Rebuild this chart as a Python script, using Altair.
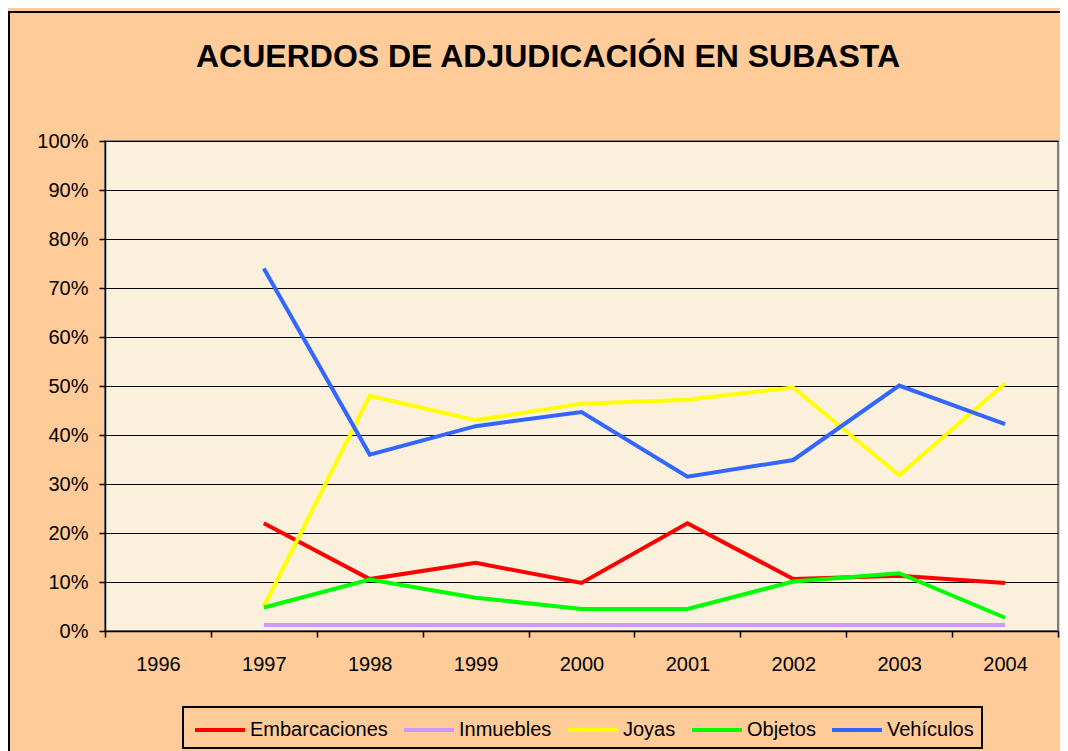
import altair as alt
import pandas as pd

years = ["1996", "1997", "1998", "1999", "2000", "2001", "2002", "2003", "2004"]
data_years = ["1997", "1998", "1999", "2000", "2001", "2002", "2003", "2004"]
series = ["Embarcaciones", "Inmuebles", "Joyas", "Objetos", "Vehículos"]
colors = ["#FF0000", "#CC99FF", "#FFFF00", "#00FF00", "#3366FF"]

embarcaciones = [22.0, 10.6, 13.9, 9.8, 22.0, 10.6, 11.3, 9.8]
inmuebles = [1.2, 1.2, 1.2, 1.2, 1.2, 1.2, 1.2, 1.2]
joyas = [5.0, 48.0, 43.0, 46.4, 47.2, 49.7, 31.8, 50.5]
objetos = [4.8, 10.5, 6.8, 4.5, 4.5, 10.1, 11.8, 2.7]
vehiculos = [74.0, 36.0, 41.8, 44.7, 31.5, 34.9, 50.1, 42.2]
y_ticks = [0, 10, 20, 30, 40, 50, 60, 70, 80, 90, 100]

title_text = "ACUERDOS DE ADJUDICACIÓN EN SUBASTA"

rows = []
for name, vals in zip(series, [embarcaciones, inmuebles, joyas, objetos, vehiculos]):
    for yr, v in zip(data_years, vals):
        rows.append({"year": yr, "serie": name, "value": v})
df = pd.DataFrame(rows)

FONT = "Liberation Sans"
W, H = 953, 490

lines = alt.Chart(df).mark_line(strokeWidth=4).encode(
    x=alt.X(
        "year:N",
        bandPosition=0.5,
        scale=alt.Scale(type="band", domain=years, paddingInner=0, paddingOuter=0),
        axis=alt.Axis(
            title=None, labelAngle=0, tickBand="extent", grid=False,
            domainColor="black", domainWidth=1.5, tickColor="black", tickWidth=1.5,
            tickSize=6, labelPadding=17, labelFontSize=20, labelFont=FONT,
            labelColor="black",
        ),
    ),
    y=alt.Y(
        "value:Q",
        scale=alt.Scale(domain=[0, 100], nice=False),
        axis=alt.Axis(
            title=None, values=y_ticks, labelExpr="datum.value + '%'",
            grid=True, gridColor="black", gridWidth=1,
            domainColor="black", domainWidth=1.5, tickColor="black", tickWidth=1.5,
            tickSize=6, labelPadding=11, labelFontSize=20, labelFont=FONT,
            labelColor="black",
        ),
    ),
    color=alt.Color(
        "serie:N",
        scale=alt.Scale(domain=series, range=colors),
        legend=alt.Legend(
            title=None, orient="none", legendX=88, legendY=562,
            direction="horizontal", columns=5, symbolType="stroke",
            symbolStrokeWidth=4, symbolSize=2500, labelFontSize=20,
            labelFont=FONT, labelColor="black",
            padding=0, columnPadding=8, labelOffset=3,
        ),
    ),
)

one = pd.DataFrame({"k": [0]})

border = alt.Chart(one).mark_rect(
    fillOpacity=0, stroke="black", strokeWidth=2
).encode(
    x=alt.value(-96), x2=alt.value(1000), y=alt.value(-129), y2=alt.value(700)
)

legend_box = alt.Chart(one).mark_rect(
    fillOpacity=0, stroke="black", strokeWidth=2
).encode(
    x=alt.value(78), x2=alt.value(877), y=alt.value(566), y2=alt.value(607)
)

title = alt.Chart(one).mark_text(
    fontSize=32, font=FONT, fontWeight="bold", color="black",
    align="center", baseline="alphabetic"
).encode(
    x=alt.value(443), y=alt.value(-74), text=alt.value(title_text)
)

chart = alt.layer(border, legend_box, title, lines).properties(
    width=W,
    height=H,
    autosize=alt.AutoSizeParams(type="none"),
    padding={"left": 97, "top": 133, "right": 2, "bottom": 120},
).configure(
    background="#FFCC99"
).configure_view(
    fill="#FBF0DC", stroke="#808080", strokeWidth=2
)

chart.save("out.html", embed_options={"renderer": "svg", "actions": False})
